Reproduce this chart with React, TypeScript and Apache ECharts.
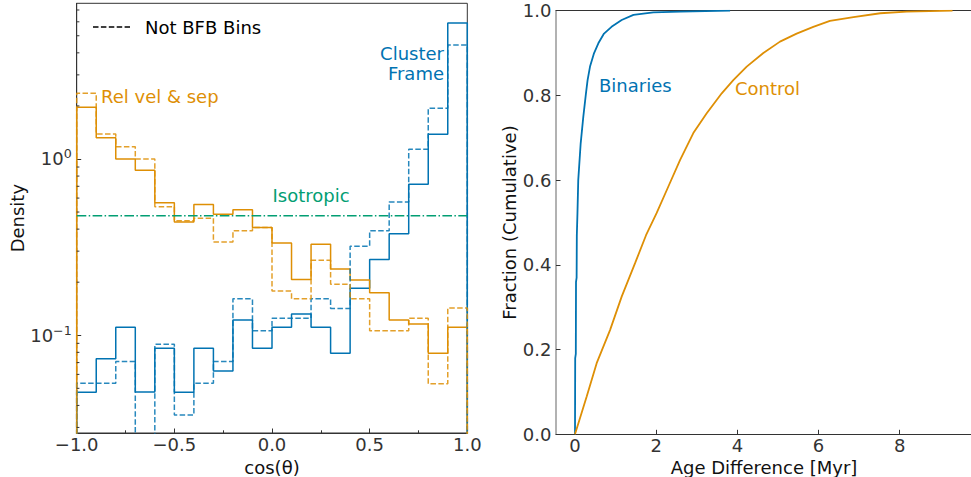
import React, { useEffect, useRef } from "react";
import * as echarts from "echarts";

// ---------- Data (left panel: histograms of cos(theta), 20 bins) ----------
const BIN_EDGES = [-1.0, -0.9, -0.8, -0.7, -0.6, -0.5, -0.4, -0.3, -0.2, -0.1, 0.0, 0.1, 0.2, 0.3, 0.4, 0.5, 0.6, 0.7, 0.8, 0.9, 1.0];
const REL_VEL_SEP = [1.965, 1.321, 1.0, 0.863, 0.565, 0.439, 0.551, 0.486, 0.516, 0.408, 0.334, 0.207, 0.328, 0.238, 0.206, 0.174, 0.122, 0.116, 0.079, 0.111];
const REL_VEL_SEP_NOT_BFB = [2.359, 1.386, 1.174, 1.0, 0.536, 0.447, 0.461, 0.338, 0.392, 0.408, 0.178, 0.161, 0.266, 0.195, 0.161, 0.106, 0.106, 0.125, 0.053, 0.143];
const CLUSTER_FRAME = [0.0475, 0.0737, 0.111, 0.0476, 0.0844, 0.0475, 0.0844, 0.0627, 0.122, 0.0844, 0.111, 0.132, 0.111, 0.079, 0.185, 0.269, 0.376, 0.719, 1.381, 5.907];
// bin 4 is empty (below the axis floor)
const CLUSTER_FRAME_NOT_BFB = [0.0534, 0.0534, 0.0709, 0.02, 0.0889, 0.0353, 0.0534, 0.0709, 0.161, 0.106, 0.125, 0.125, 0.161, 0.142, 0.32, 0.392, 0.57, 1.135, 1.939, 4.432];
const ISOTROPIC = 0.477;
const HIST_FLOOR = 0.001; // step outline drops to zero at the outer edges
const Y_LOG_MIN = 0.0279;
const Y_LOG_MAX = 7.64;
const Y_MINOR_TICKS = [0.03, 0.04, 0.05, 0.06, 0.07, 0.08, 0.09, 0.2, 0.3, 0.4, 0.5, 0.6, 0.7, 0.8, 0.9, 2, 3, 4, 5, 6, 7];

// ---------- Data (right panel: cumulative age difference) ----------
const BINARIES_AGE = [0.0, 0.005, 0.02, 0.025, 0.04, 0.045, 0.06, 0.08, 0.14, 0.205, 0.27, 0.31, 0.37, 0.47, 0.575, 0.715, 0.9, 1.15, 1.44, 1.93, 2.6, 3.82];
const BINARIES_FRAC = [0.0, 0.18, 0.19, 0.36, 0.37, 0.47, 0.52, 0.6, 0.687, 0.75, 0.805, 0.836, 0.868, 0.9, 0.923, 0.946, 0.962, 0.978, 0.99, 0.996, 0.998, 1.0];
const CONTROL_AGE = [0.0, 0.288, 0.534, 0.863, 1.15, 1.48, 1.75, 2.01, 2.3, 2.59, 2.915, 3.245, 3.615, 3.9, 4.23, 4.64, 5.05, 5.46, 5.87, 6.28, 6.86, 7.52, 8.17, 9.3];
const CONTROL_FRAC = [0.0, 0.089, 0.168, 0.246, 0.325, 0.404, 0.47, 0.522, 0.585, 0.648, 0.711, 0.758, 0.805, 0.836, 0.868, 0.9, 0.927, 0.946, 0.962, 0.976, 0.985, 0.994, 0.998, 1.0];
const AGE_X_TICKS = [0, 2, 4, 6, 8];
const AGE_X_MIN = -0.468;
const AGE_X_MAX = 9.78;

const BLUE = "#0173B2";
const ORANGE = "#DE8F05";
const GREEN = "#029E73";
const FONT = "DejaVu Sans";
const FS = 18;

function stepData(vals: number[]) {
  const pts: number[][] = [[BIN_EDGES[0], HIST_FLOOR]];
  vals.forEach((v, i) => pts.push([BIN_EDGES[i], v]));
  const last = BIN_EDGES[BIN_EDGES.length - 1];
  pts.push([last, vals[vals.length - 1]]);
  pts.push([last, HIST_FLOOR]);
  return pts;
}

function zip(a: number[], b: number[]) {
  return a.map((x, i) => [x, b[i]]);
}

function fmtMinus(v: number) {
  const s = Math.abs(v).toFixed(1);
  return v < -1e-9 ? "\u2212" + s : s;
}

const DASH = [5.5, 2.4];

export default function App() {
  const ref = useRef<HTMLDivElement>(null);
  useEffect(() => {
    document.body.style.margin = "0";
    const chart = echarts.init(ref.current!, null, { renderer: "svg" });
    const histLine = (name: string, vals: number[], color: string, dashed: boolean) => ({
      name,
      type: "line",
      xAxisIndex: 0,
      yAxisIndex: 0,
      step: "end",
      symbol: "none",
      data: stepData(vals),
      lineStyle: { color, width: 1.5, type: dashed ? DASH : "solid", opacity: dashed ? 0.85 : 1 },
      z: 3,
    });
    const txt = (text: string, x: number, y: number, fill: string, align: string, rotation = 0) => ({
      type: "text", x, y, rotation,
      style: { text, fontSize: FS, fontFamily: FONT, fill, align, verticalAlign: "middle" },
    });
    const option: any = {
      animation: false,
      textStyle: { fontFamily: FONT },
      grid: [
        { left: 76.7, top: 3.3, width: 390.6, height: 429.7, show: true, borderColor: "#333", borderWidth: 1, backgroundColor: "transparent", containLabel: false, outerBoundsMode: "none" },
        { left: 556, top: 10.7, width: 416, height: 423.6, show: false, containLabel: false, outerBoundsMode: "none" },
      ],
      xAxis: [
        {
          gridIndex: 0, type: "value", min: BIN_EDGES[0], max: BIN_EDGES[BIN_EDGES.length - 1], interval: 0.5,
          axisLine: { show: true, onZero: false, lineStyle: { color: "#333", width: 1 } },
          axisTick: { show: true, inside: true, length: 4.5, lineStyle: { color: "#333" } },
          minorTick: { show: true, splitNumber: 2, length: 2.7, lineStyle: { color: "#333" } },
          splitLine: { show: false }, minorSplitLine: { show: false },
          axisLabel: { fontSize: FS, color: "#333", margin: 2, fontFamily: FONT, formatter: (v: number) => fmtMinus(v) },
        },
        {
          gridIndex: 1, type: "value", min: AGE_X_MIN, max: AGE_X_MAX,
          axisLine: { show: true, onZero: false, lineStyle: { color: "#333", width: 1 } },
          axisTick: { show: true, inside: true, length: 4.5, customValues: AGE_X_TICKS, lineStyle: { color: "#333" } },
          splitLine: { show: false },
          axisLabel: { fontSize: FS, color: "#333", margin: 2, fontFamily: FONT, customValues: AGE_X_TICKS, formatter: (v: number) => String(Math.round(v)) },
        },
        {
          gridIndex: 1, type: "value", min: AGE_X_MIN, max: AGE_X_MAX, position: "top",
          axisLine: { show: true, onZero: false, lineStyle: { color: "#333", width: 1 } },
          axisTick: { show: false }, axisLabel: { show: false }, splitLine: { show: false },
        },
      ],
      yAxis: [
        {
          gridIndex: 0, type: "log", logBase: 10, min: Y_LOG_MIN, max: Y_LOG_MAX,
          name: "Density", nameLocation: "middle", nameGap: 50,
          nameTextStyle: { fontSize: FS, color: "#111", fontFamily: FONT },
          axisLine: { show: true, onZero: false, lineStyle: { color: "#333", width: 1 } },
          axisTick: { show: true, inside: true, length: 4.5, lineStyle: { color: "#333" } },
          splitLine: { show: false },
          axisLabel: {
            margin: 5, color: "#333", fontFamily: FONT,
            showMinLabel: false, showMaxLabel: false,
            formatter: (v: number) => {
              const l = Math.log10(v);
              if (Math.abs(l) < 1e-6) return "{b|10}{s|0}";
              if (Math.abs(l + 1) < 1e-6) return "{b|10}{s|\u22121}";
              return "";
            },
            rich: {
              b: { fontSize: FS, color: "#333", fontFamily: FONT },
              s: { fontSize: 12.6, color: "#333", fontFamily: FONT, padding: [0, 0, 10, 0] },
            },
          },
        },
        {
          gridIndex: 1, type: "value", min: 0, max: 1, interval: 0.2,
          name: "Fraction (Cumulative)", nameLocation: "middle", nameGap: 36,
          nameTextStyle: { fontSize: FS, color: "#111", fontFamily: FONT },
          axisLine: { show: true, onZero: false, lineStyle: { color: "#999", width: 1.5 } },
          axisTick: { show: true, inside: true, length: 4.5, lineStyle: { color: "#333" } },
          splitLine: { show: false },
          axisLabel: { fontSize: FS, color: "#333", margin: 4.5, fontFamily: FONT, formatter: (v: number) => v.toFixed(1) },
        },
      ],
      series: [
        histLine("Cluster Frame", CLUSTER_FRAME, BLUE, false),
        histLine("Rel vel & sep", REL_VEL_SEP, ORANGE, false),
        histLine("Cluster Frame (Not BFB Bins)", CLUSTER_FRAME_NOT_BFB, BLUE, true),
        histLine("Rel vel & sep (Not BFB Bins)", REL_VEL_SEP_NOT_BFB, ORANGE, true),
        {
          name: "Isotropic", type: "line", xAxisIndex: 0, yAxisIndex: 0, symbol: "none",
          data: [[BIN_EDGES[0], ISOTROPIC], [BIN_EDGES[BIN_EDGES.length - 1], ISOTROPIC]],
          lineStyle: { color: GREEN, width: 1.5, type: [9.6, 2.4, 1.5, 2.4] }, z: 4,
        },
        {
          name: "minor ticks", type: "custom", xAxisIndex: 0, yAxisIndex: 0, silent: true, clip: false,
          data: Y_MINOR_TICKS.map((v) => [BIN_EDGES[0], v]),
          renderItem: (_p: any, api: any) => {
            const p = api.coord([api.value(0), api.value(1)]);
            return { type: "line", shape: { x1: p[0], y1: p[1], x2: p[0] + 2.7, y2: p[1] }, style: { stroke: "#333", lineWidth: 1 } };
          },
          z: 5,
        },
        {
          name: "Binaries", type: "line", xAxisIndex: 1, yAxisIndex: 1, symbol: "none",
          data: zip(BINARIES_AGE, BINARIES_FRAC), lineStyle: { color: BLUE, width: 1.8 }, z: 3,
        },
        {
          name: "Control", type: "line", xAxisIndex: 1, yAxisIndex: 1, symbol: "none",
          data: zip(CONTROL_AGE, CONTROL_FRAC), lineStyle: { color: ORANGE, width: 1.8 }, z: 3,
        },
      ],
      graphic: [
        { type: "line", shape: { x1: 93, y1: 27, x2: 130, y2: 27 }, style: { stroke: "#000", lineWidth: 1.5, lineDash: DASH } },
        txt("Not BFB Bins", 145, 27, "#000", "left"),
        txt("Rel vel & sep", 101, 96, ORANGE, "left"),
        txt("Cluster", 444, 53, BLUE, "right"),
        txt("Frame", 444, 73, BLUE, "right"),
        txt("Isotropic", 311, 195, GREEN, "center"),
        txt("Binaries", 599, 85, BLUE, "left"),
        txt("Control", 735, 88, ORANGE, "left"),
        txt("cos(θ)", 272, 467, "#111", "center"),
        txt("Age Difference [Myr]", 764, 467, "#111", "center"),
      ],
    };
    chart.setOption(option);
    return () => chart.dispose();
  }, []);
  return <div ref={ref} style={{ width: "971px", height: "477px" }} />;
}
